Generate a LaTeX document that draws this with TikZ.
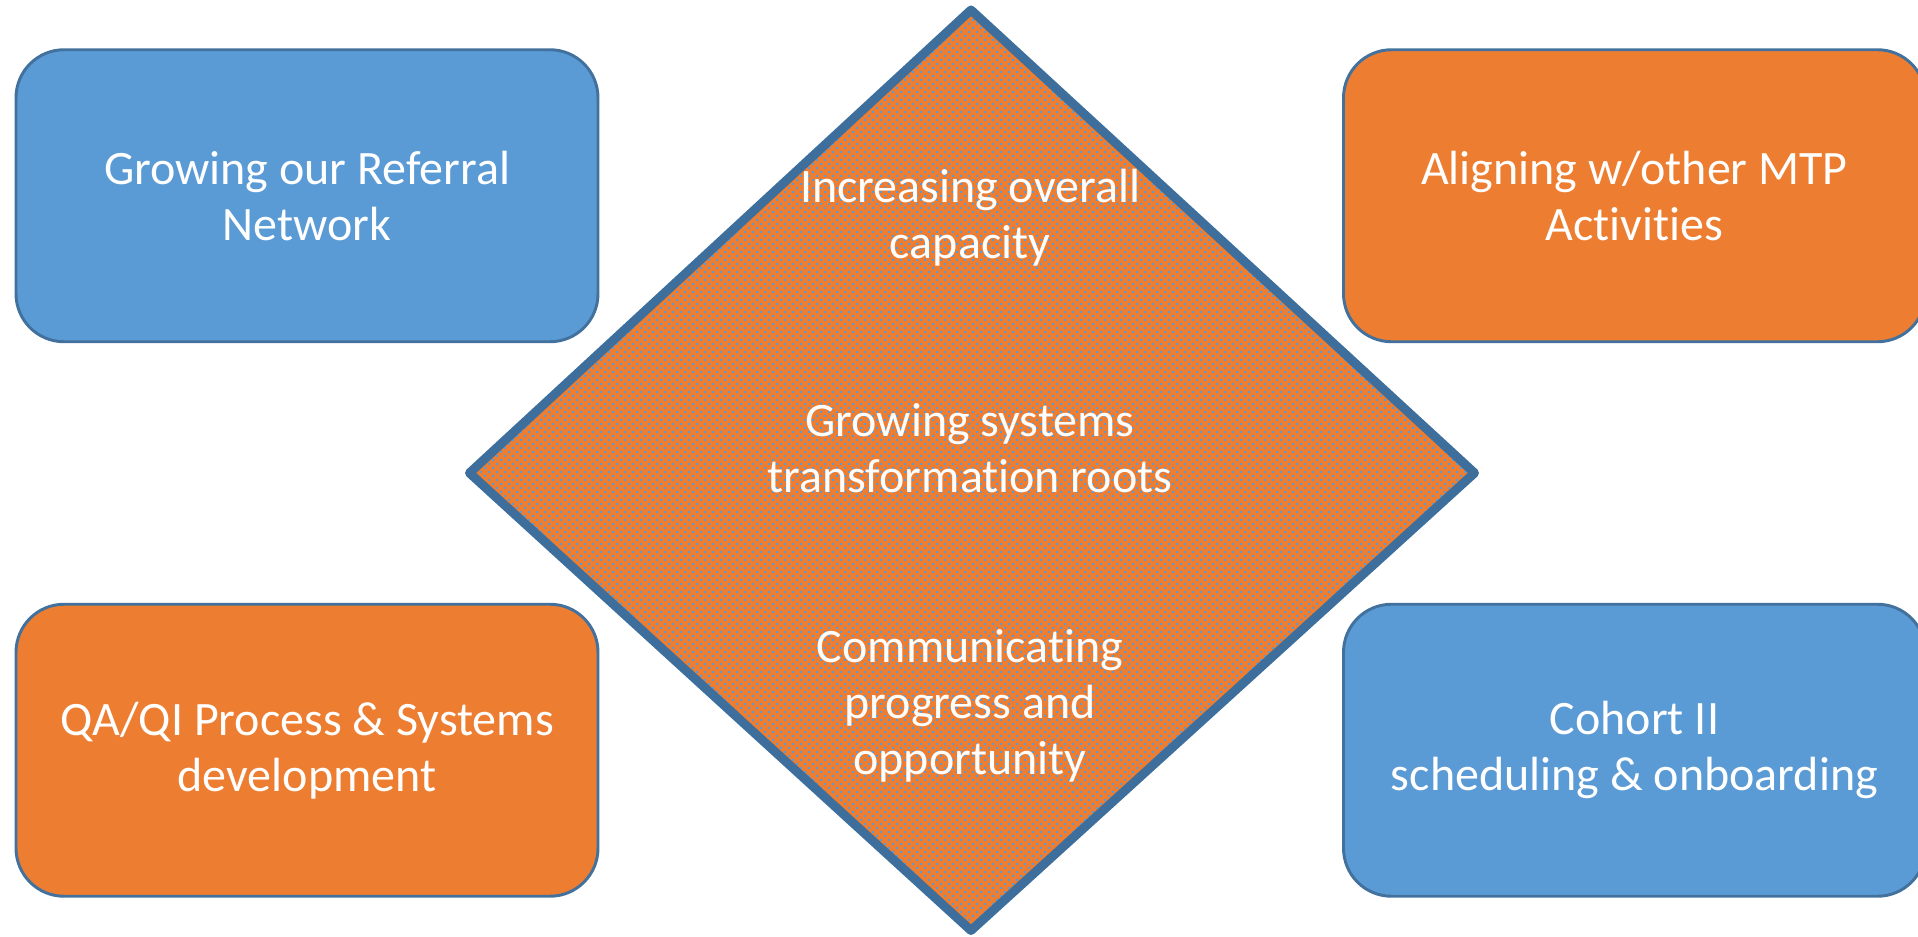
\documentclass[tikz,border=0pt]{standalone}
\usepackage{fontspec}
\setmainfont[Ligatures=NoCommon]{Carlito}
\usetikzlibrary{patterns}
\definecolor{cblue}{HTML}{5B9BD5}
\definecolor{corange}{HTML}{ED7D31}
\definecolor{cedge}{HTML}{41719C}
\definecolor{cdedge}{HTML}{3E6F9C}
\pgfdeclarepatternformonly{bluedots}{\pgfpoint{-1pt}{-1pt}}{\pgfpoint{7pt}{7pt}}{\pgfpoint{6pt}{6pt}}{%
  \pgfpathrectangle{\pgfpoint{0pt}{0pt}}{\pgfpoint{1.5pt}{1.5pt}}%
  \pgfpathrectangle{\pgfpoint{3pt}{3pt}}{\pgfpoint{1.5pt}{1.5pt}}%
  \pgfusepath{fill}}
\tikzset{
  box/.style={draw=cedge, line width=2.2pt, rounded corners=36pt,
    minimum width=436.5pt, minimum height=219pt, align=center,
    text=white, font=\fontsize{36}{42}\selectfont, inner sep=0pt},
  bluebox/.style={box, fill=cblue},
  orangebox/.style={box, fill=corange},
  dtext/.style={align=center, text=white, font=\fontsize{36}{42}\selectfont, inner sep=0pt}
}
\begin{document}
\begin{tikzpicture}[x=0.75pt, y=-0.75pt]
\useasboundingbox (0,0) rectangle (1918,937);
\clip (0,0) rectangle (1918,937);
% boxes
\node[bluebox] (tl) at (307,195.75) {Growing our Referral\\Network};
\node[orangebox] (tr) at (1634.5,195.75) {Aligning w/other MTP\\Activities};
\node[orangebox] (bl) at (307,750.25) {QA/QI Process \& Systems\\development};
\node[bluebox] (br) at (1634.5,750.25) {Cohort II\\scheduling \& onboarding};
% diamond
\coordinate (dt) at (971,10);
\coordinate (dl) at (469.5,473);
\coordinate (db) at (971,930.5);
\coordinate (dr) at (1474.5,473);
\fill[corange] (dt) -- (dr) -- (db) -- (dl) -- cycle;
\fill[pattern=bluedots, pattern color=cblue] (dt) -- (dr) -- (db) -- (dl) -- cycle;
\draw[cdedge, line width=6.75pt, line join=round] (dt) -- (dr) -- (db) -- (dl) -- cycle;
\node[dtext] (d1) at (970,218) {Increasing overall\\capacity};
\node[dtext] (d2) at (970,448) {Growing systems\\transformation roots};
\node[dtext] (d3) at (970,706) {Communicating\\progress and\\opportunity};
\end{tikzpicture}
\end{document}
